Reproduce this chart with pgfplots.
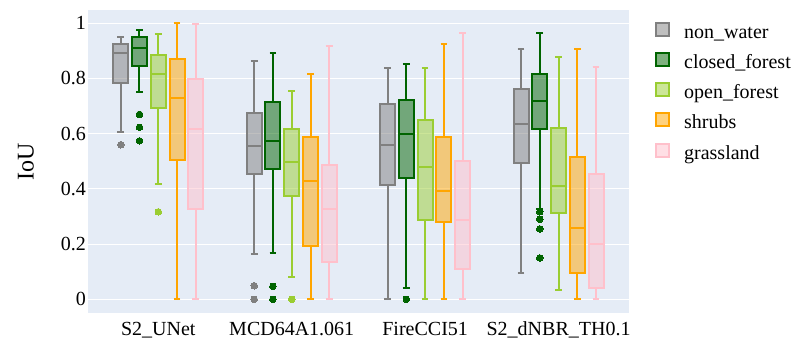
\documentclass[border=0pt]{standalone}
\usepackage{fontspec}
\setmainfont{Liberation Serif}
\usepackage{pgfplots}
\pgfplotsset{compat=1.18}
\usepgfplotslibrary{statistics}
\definecolor{bgc}{HTML}{E5ECF6}
\definecolor{cgray}{HTML}{808080}
\definecolor{cdg}{HTML}{006400}
\definecolor{clg}{HTML}{9ACD32}
\definecolor{cor}{HTML}{FFA500}
\definecolor{cpk}{HTML}{FFC0CB}
\pgfplotsset{
  mybox/.style={forget plot, draw=#1, fill=#1, fill opacity=0.5, line width=2pt,
    mark=*, mark size=3.3pt, mark options={solid, fill=#1, draw=#1, line width=0pt, fill opacity=1, draw opacity=1}},
}
\newcommand{\bx}[7]{%
  \addplot[mybox=#1, boxplot prepared={draw position=#2, lower whisker=#3, lower quartile=#4, median=#5, upper quartile=#6, upper whisker=#7, box extend=0.112, whisker extend=0.05}] coordinates {};}
\begin{document}
\begin{tikzpicture}
\useasboundingbox (0pt,0pt) rectangle (798pt,340pt);
\begin{axis}[
  at={(88pt,26.7pt)}, anchor=south west,
  scale only axis, width=541pt, height=303.3pt,
  xmin=-0.527, xmax=3.528, ymin=-0.0507, ymax=1.048,
  clip=false,
  boxplot/draw direction=y,
  axis background/.style={fill=bgc},
  axis line style={draw=none},
  tick style={draw=none},
  major tick length=0pt,
  ymajorgrids, grid style={white, line width=1pt},
  xtick={0,1,2,3},
  xticklabels={S2\_UNet, MCD64A1.061, FireCCI51, S2\_dNBR\_TH0.1},
  ytick={0,0.2,0.4,0.6,0.8,1},
  yticklabels={0,0.2,0.4,0.6,0.8,1},
  ticklabel style={font=\fontsize{20}{24}\selectfont},
  xticklabel style={anchor=north, inner sep=0pt, text height=14pt, text depth=5pt, yshift=-7.7pt},
  yticklabel style={anchor=east, inner sep=0pt, xshift=-2pt},
  ylabel={IoU},
  every axis y label/.style={at={(axis description cs:-0.1146,0.5)}, rotate=90, anchor=center, font=\fontsize{24}{28}\selectfont},
  legend style={at={(axis description cs:1.048,0.962)}, anchor=north west, draw=none, fill=none,
    font=\fontsize{20}{24}\selectfont, inner sep=0pt, row sep=8.7pt,
    nodes={inner sep=0pt, text height=14pt, text depth=5pt},
    /tikz/every odd column/.append style={column sep=14pt}},
  legend cell align=left,
]
% group 0: S2_UNet
\addplot[mybox=cgray, boxplot prepared={draw position=-0.281, lower whisker=0.606, lower quartile=0.785, median=0.893, upper quartile=0.924, upper whisker=0.951, box extend=0.112, whisker extend=0.05}] table[row sep=\\,y index=0] {data\\ 0.560\\};
\addplot[mybox=cdg, boxplot prepared={draw position=-0.141, lower whisker=0.751, lower quartile=0.845, median=0.910, upper quartile=0.949, upper whisker=0.976, box extend=0.112, whisker extend=0.05}] table[row sep=\\,y index=0] {data\\ 0.670\\ 0.623\\ 0.574\\};
\addplot[mybox=clg, boxplot prepared={draw position=0, lower whisker=0.417, lower quartile=0.692, median=0.816, upper quartile=0.884, upper whisker=0.960, box extend=0.112, whisker extend=0.05}] table[row sep=\\,y index=0] {data\\ 0.317\\};
\bx{cor}{0.141}{0}{0.505}{0.730}{0.871}{1.0}
\bx{cpk}{0.281}{0}{0.326}{0.618}{0.798}{0.997}
% group 1: MCD64A1.061
\addplot[mybox=cgray, boxplot prepared={draw position=0.719, lower whisker=0.163, lower quartile=0.453, median=0.557, upper quartile=0.674, upper whisker=0.862, box extend=0.112, whisker extend=0.05}] table[row sep=\\,y index=0] {data\\ 0.049\\ 0\\};
\addplot[mybox=cdg, boxplot prepared={draw position=0.859, lower whisker=0.168, lower quartile=0.472, median=0.575, upper quartile=0.715, upper whisker=0.892, box extend=0.112, whisker extend=0.05}] table[row sep=\\,y index=0] {data\\ 0.047\\ 0\\};
\addplot[mybox=clg, boxplot prepared={draw position=1, lower whisker=0.081, lower quartile=0.375, median=0.496, upper quartile=0.616, upper whisker=0.756, box extend=0.112, whisker extend=0.05}] table[row sep=\\,y index=0] {data\\ 0\\};
\bx{cor}{1.141}{0}{0.193}{0.428}{0.589}{0.816}
\bx{cpk}{1.281}{0}{0.136}{0.327}{0.486}{0.919}
% group 2: FireCCI51
\bx{cgray}{1.719}{0}{0.414}{0.559}{0.708}{0.839}
\addplot[mybox=cdg, boxplot prepared={draw position=1.859, lower whisker=0.041, lower quartile=0.438, median=0.598, upper quartile=0.721, upper whisker=0.851, box extend=0.112, whisker extend=0.05}] table[row sep=\\,y index=0] {data\\ 0\\};
\bx{clg}{2}{0}{0.287}{0.480}{0.651}{0.837}
\bx{cor}{2.141}{0}{0.281}{0.392}{0.589}{0.925}
\bx{cpk}{2.281}{0}{0.110}{0.286}{0.501}{0.964}
% group 3: S2_dNBR_TH0.1
\bx{cgray}{2.719}{0.094}{0.493}{0.636}{0.761}{0.906}
\addplot[mybox=cdg, boxplot prepared={draw position=2.859, lower whisker=0.326, lower quartile=0.618, median=0.718, upper quartile=0.815, upper whisker=0.964, box extend=0.112, whisker extend=0.05}] table[row sep=\\,y index=0] {data\\ 0.317\\ 0.290\\ 0.255\\ 0.150\\};
\bx{clg}{3}{0.034}{0.314}{0.412}{0.620}{0.878}
\bx{cor}{3.141}{0}{0.096}{0.259}{0.514}{0.906}
\bx{cpk}{3.281}{0}{0.042}{0.201}{0.455}{0.842}
% legend
\addlegendimage{legend image code/.code={\draw[draw=cgray, fill=cgray, fill opacity=0.5, line width=2pt] (0pt,-2pt) rectangle (13pt,11pt);}}
\addlegendentry{non\_water}
\addlegendimage{legend image code/.code={\draw[draw=cdg, fill=cdg, fill opacity=0.5, line width=2pt] (0pt,-2pt) rectangle (13pt,11pt);}}
\addlegendentry{closed\_forest}
\addlegendimage{legend image code/.code={\draw[draw=clg, fill=clg, fill opacity=0.5, line width=2pt] (0pt,-2pt) rectangle (13pt,11pt);}}
\addlegendentry{open\_forest}
\addlegendimage{legend image code/.code={\draw[draw=cor, fill=cor, fill opacity=0.5, line width=2pt] (0pt,-2pt) rectangle (13pt,11pt);}}
\addlegendentry{shrubs}
\addlegendimage{legend image code/.code={\draw[draw=cpk, fill=cpk, fill opacity=0.5, line width=2pt] (0pt,-2pt) rectangle (13pt,11pt);}}
\addlegendentry{grassland}
\end{axis}
\end{tikzpicture}
\end{document}
